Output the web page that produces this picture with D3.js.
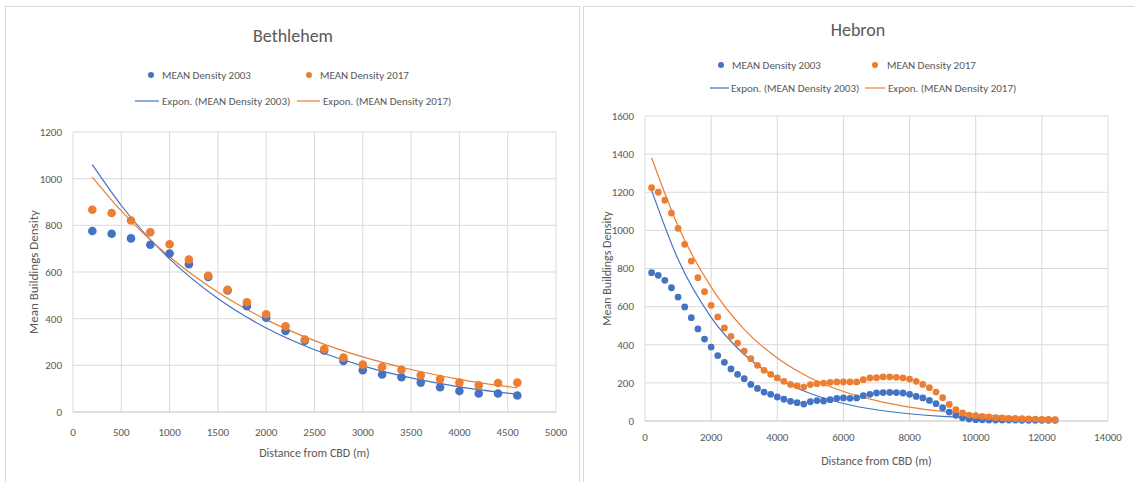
<!DOCTYPE html>
<html>
<head>
<meta charset="utf-8">
<script src="https://cdn.jsdelivr.net/npm/d3@7"></script>
<style>
  body { margin: 0; background: #fff; }
  text { font-family: Carlito, Calibri, "Liberation Sans Narrow", Lato, sans-serif; fill: #595959; }
</style>
</head>
<body>
<svg id="chart" width="1134" height="482"></svg>
<script>
// Bethlehem data (distance from CBD, mean density)
const bethDist = [200, 400, 600, 800, 1000, 1200, 1400, 1600, 1800, 2000, 2200, 2400,
  2600, 2800, 3000, 3200, 3400, 3600, 3800, 4000, 4200, 4400, 4600];
const beth2003 = [776, 764, 744, 717, 679, 633, 579, 521, 453, 404, 347, 305,
  264, 219, 179, 161, 149, 126, 106, 90, 79, 79, 71];
const beth2017 = [867, 853, 821, 770, 719, 653, 584, 524, 470, 419, 367, 311,
  270, 233, 203, 193, 181, 157, 141, 126, 114, 124, 126];

// Bethlehem exponential trendlines
const bethTrendDist = [200, 500, 1000, 1500, 2000, 2500, 3000, 3500, 4000, 4600];
const bethTrend2003 = [1060, 885, 656, 486, 360, 267, 198, 146, 108, 76];
const bethTrend2017 = [1007, 862, 665, 513, 396, 306, 236, 182, 140, 103];

// Hebron data
const hebDist = [200, 400, 600, 800, 1000, 1200, 1400, 1600, 1800, 2000,
  2200, 2400, 2600, 2800, 3000, 3200, 3400, 3600, 3800, 4000,
  4200, 4400, 4600, 4800, 5000, 5200, 5400, 5600, 5800, 6000,
  6200, 6400, 6600, 6800, 7000, 7200, 7400, 7600, 7800, 8000,
  8200, 8400, 8600, 8800, 9000, 9200, 9400, 9600, 9800, 10000,
  10200, 10400, 10600, 10800, 11000, 11200, 11400, 11600, 11800, 12000,
  12200, 12400];
const heb2003 = [778, 764, 738, 699, 650, 598, 542, 483, 430, 388,
  343, 308, 273, 245, 222, 192, 171, 152, 140, 126,
  114, 103, 96, 89, 101, 107, 105, 112, 119, 121,
  119, 121, 133, 140, 147, 149, 150, 149, 147, 140,
  129, 121, 108, 91, 70, 47, 30, 17, 10, 7,
  6, 5, 5, 5, 5, 5, 4, 4, 4, 4,
  4, 4];
const heb2017 = [1224, 1200, 1158, 1091, 1011, 927, 839, 752, 678, 607,
  546, 488, 444, 409, 367, 327, 292, 266, 245, 226,
  208, 192, 184, 178, 191, 196, 199, 203, 205, 205,
  205, 205, 217, 226, 227, 231, 231, 229, 226, 220,
  208, 192, 175, 152, 122, 87, 59, 42, 31, 28,
  24, 21, 17, 16, 14, 13, 12, 11, 10, 9,
  8, 7];

// Hebron exponential trendlines
const hebTrendDist = [200, 1000, 2000, 3000, 4000, 5000, 6000, 7000, 8000, 9000, 10000, 11000, 12000, 12400];
const hebTrend2003 = [1210, 848, 544, 349, 224, 144, 92, 59, 38, 24, 16, 10, 7, 6];
const hebTrend2017 = [1381, 1023, 702, 481, 330, 226, 155, 107, 73, 50, 34, 24, 16, 14];

// Axis ticks and labels
const bethXTicks = [0, 500, 1000, 1500, 2000, 2500, 3000, 3500, 4000, 4500, 5000];
const bethYTicks = [0, 200, 400, 600, 800, 1000, 1200];
const hebXTicks = [0, 2000, 4000, 6000, 8000, 10000, 12000, 14000];
const hebYTicks = [0, 200, 400, 600, 800, 1000, 1200, 1400, 1600];
const seriesNames = ['MEAN Density 2003', 'MEAN Density 2017'];
const trendNames = ['Expon. (MEAN Density 2003)', 'Expon. (MEAN Density 2017)'];

const colors = ['#4472c4', '#ed7d31'];
const grid = '#d9d9d9';

const svg = d3.select('#chart');

// Panel frames
svg.append('rect').attr('x', 5.5).attr('y', 6.5).attr('width', 574).attr('height', 490)
  .style('fill', 'none').style('stroke', grid);
svg.append('rect').attr('x', 583.5).attr('y', 6.5).attr('width', 560).attr('height', 490)
  .style('fill', 'none').style('stroke', grid);

drawPanel({
  title: 'Bethlehem', titleX: 293, titleY: 42,
  x0: 73, x1: 556, y0: 412, y1: 132,
  xMax: 5000, yMax: 1200, xTicks: bethXTicks, yTicks: bethYTicks,
  dist: bethDist, series: [beth2003, beth2017], r: 4.3,
  trendDist: bethTrendDist, trends: [bethTrend2003, bethTrend2017],
  tickY: 436, xTitleY: 457, yTitleX: 33, yTitleSize: 13,
  legend: { row1: 75, row2: 101, dots: [151, 309], dotText: [162, 320],
            lines: [[135, 159], [297, 320]], lineText: [162, 323] }
});

drawPanel({
  title: 'Hebron', titleX: 858, titleY: 36,
  x0: 645, x1: 1108, y0: 421, y1: 116,
  xMax: 14000, yMax: 1600, xTicks: hebXTicks, yTicks: hebYTicks,
  dist: hebDist, series: [heb2003, heb2017], r: 3.4,
  trendDist: hebTrendDist, trends: [hebTrend2003, hebTrend2017],
  tickY: 441, xTitleY: 465, yTitleX: 607, yTitleSize: 12,
  legend: { row1: 65, row2: 88, dots: [721, 875], dotText: [732, 887],
            lines: [[710, 729], [865, 885]], lineText: [731, 888] }
});

// Draw one scatter panel with its trendlines
function drawPanel (p) {
  const g = svg.append('g');
  const x = d3.scaleLinear().domain([0, p.xMax]).range([p.x0, p.x1]);
  const y = d3.scaleLinear().domain([0, p.yMax]).range([p.y0, p.y1]);

  // Gridlines
  g.selectAll('line.vg')
    .data(p.xTicks)
    .join('line')
    .attr('class', 'vg')
    .attr('x1', d => x(d)).attr('x2', d => x(d))
    .attr('y1', p.y0).attr('y2', p.y1)
    .style('stroke', grid);
  g.selectAll('line.hg')
    .data(p.yTicks)
    .join('line')
    .attr('class', 'hg')
    .attr('x1', p.x0).attr('x2', p.x1)
    .attr('y1', d => y(d)).attr('y2', d => y(d))
    .style('stroke', d => d === 0 ? '#bfbfbf' : grid);

  // Tick labels
  g.selectAll('text.xt')
    .data(p.xTicks)
    .join('text')
    .attr('class', 'xt')
    .attr('x', d => x(d))
    .attr('y', p.tickY)
    .style('font-size', '11px')
    .style('text-anchor', 'middle')
    .text(d => d);
  g.selectAll('text.yt')
    .data(p.yTicks)
    .join('text')
    .attr('class', 'yt')
    .attr('x', p.x0 - 11)
    .attr('y', d => y(d))
    .attr('dy', '0.35em')
    .style('font-size', '11px')
    .style('text-anchor', 'end')
    .text(d => d);

  // Titles
  g.append('text')
    .attr('x', p.titleX).attr('y', p.titleY)
    .style('font-size', '18px')
    .style('text-anchor', 'middle')
    .text(p.title);
  g.append('text')
    .attr('x', (p.x0 + p.x1) / 2).attr('y', p.xTitleY)
    .style('font-size', '12px')
    .style('text-anchor', 'middle')
    .text('Distance from CBD (m)');
  g.append('text')
    .attr('transform', `translate(${p.yTitleX},${(p.y0 + p.y1) / 2}) rotate(-90)`)
    .attr('dy', '0.35em')
    .style('font-size', p.yTitleSize + 'px')
    .style('text-anchor', 'middle')
    .text('Mean Buildings Density');

  // Exponential trendlines
  const line = d3.line().x(d => x(d[0])).y(d => y(d[1])).curve(d3.curveMonotoneX);
  p.trends.forEach((vals, i) => {
    g.append('path')
      .datum(vals.map((v, j) => [p.trendDist[j], v]))
      .attr('d', line)
      .style('fill', 'none')
      .style('stroke', colors[i])
      .style('stroke-width', 1.2);
  });

  // Points
  p.series.forEach((vals, i) => {
    g.selectAll('circle.s' + i)
      .data(vals)
      .join('circle')
      .attr('class', 's' + i)
      .attr('cx', (d, j) => x(p.dist[j]))
      .attr('cy', d => y(d))
      .attr('r', p.r)
      .style('fill', colors[i]);
  });

  // Legend
  const L = p.legend;
  colors.forEach((c, i) => {
    g.append('circle')
      .attr('cx', L.dots[i]).attr('cy', L.row1).attr('r', 3)
      .style('fill', c);
    g.append('text')
      .attr('x', L.dotText[i]).attr('y', L.row1).attr('dy', '0.35em')
      .style('font-size', '11px')
      .text(seriesNames[i]);
    g.append('line')
      .attr('x1', L.lines[i][0]).attr('x2', L.lines[i][1])
      .attr('y1', L.row2).attr('y2', L.row2)
      .style('stroke', c).style('stroke-width', 1.2);
    g.append('text')
      .attr('x', L.lineText[i]).attr('y', L.row2).attr('dy', '0.35em')
      .style('font-size', '11px')
      .text(trendNames[i]);
  });
}
</script>
</body>
</html>
